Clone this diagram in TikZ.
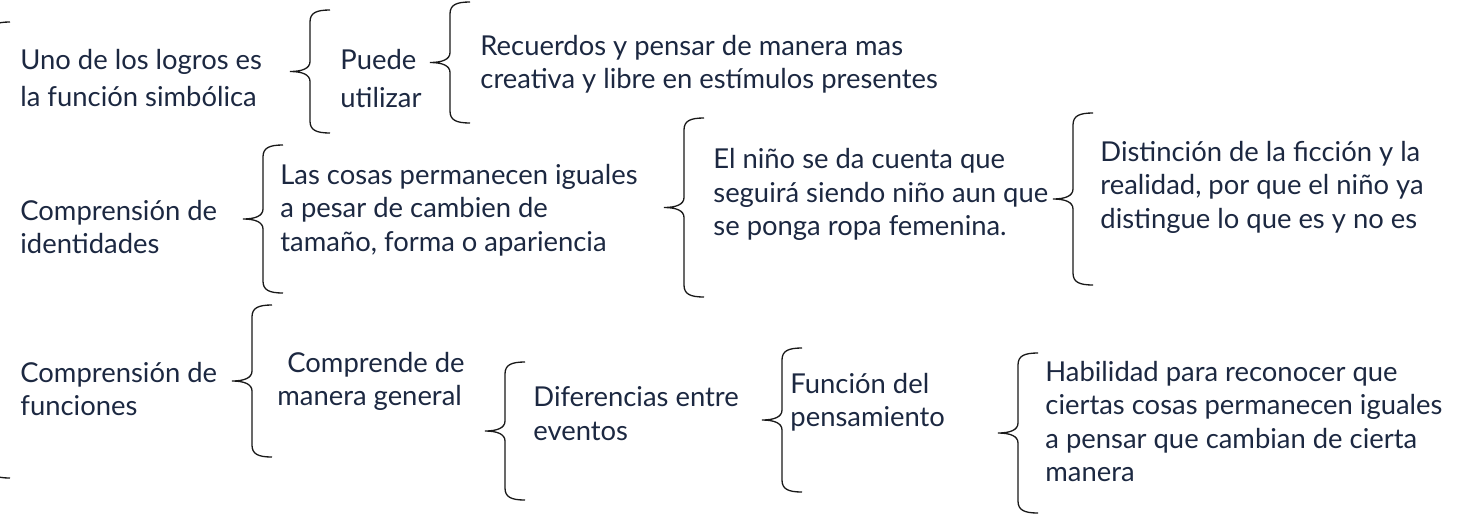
\documentclass[tikz,border=0pt]{standalone}
\usepackage{fontspec}
\setmainfont{Lato}
\usepackage{xcolor}
\definecolor{inkblue}{HTML}{1C2841}

% left curly brace: #1 = x of the spine, #2 = top, #3 = bottom (tip at the middle)
\newcommand{\lbrc}[3]{%
  \draw[brc] ({#1+20},#2) .. controls ({#1+6},#2) and (#1,{#2+3}) .. (#1,{#2+12})
    -- (#1,{(#2+#3)/2-10}) .. controls (#1,{(#2+#3)/2-3}) and ({#1-8},{(#2+#3)/2}) .. ({#1-20},{(#2+#3)/2})
    .. controls ({#1-8},{(#2+#3)/2}) and (#1,{(#2+#3)/2+3}) .. (#1,{(#2+#3)/2+10})
    -- (#1,{#3-12}) .. controls (#1,{#3-3}) and ({#1+6},#3) .. ({#1+20},#3);}

\begin{document}
\begin{tikzpicture}[x=0.5pt, y=-0.5pt,
  txt/.style={anchor=west, align=left, inner sep=0pt, text=inkblue,
              font=\fontsize{13.7}{16.75}\selectfont,
              execute at begin node=\strut, execute at end node=\strut},
  wide/.style={font=\fontsize{13.7}{18.75}\selectfont},
  brc/.style={draw=black!90, line width=0.65pt}]
  \useasboundingbox (0,0) rectangle (1460,520);
  \clip (0,0) rectangle (1460,520);

  % outer brace, only its two ends show
  \lbrc{-10}{22}{478}

  % first branch
  \node[txt, wide] (logro) at (20,83.5) {Uno de los logros es\\la función simbólica};
  \node[txt, wide] (puede) at (340,84) {Puede\\utilizar};
  \node[txt] (recuerdos) at (480,66.8) {Recuerdos y pensar de manera mas\\creativa y libre en estímulos presentes};
  \lbrc{310}{10}{133}
  \lbrc{450}{2}{123}

  % second branch
  \node[txt] (ident) at (20,231.8) {Comprensión de\\identidades};
  \node[txt] (cosas) at (280,212.8) {Las cosas permanecen iguales\\a pesar de cambien de\\tamaño, forma o apariencia};
  \node[txt] (nino) at (713,197.3) {El niño se da cuenta que\\seguirá siendo niño aun que\\se ponga ropa femenina.};
  \node[txt] (ficcion) at (1100,189.8) {Distinción de la ficción y la\\realidad, por que el niño ya\\distingue lo que es y no es};
  \lbrc{263}{145}{293}
  \lbrc{684}{118}{297}
  \lbrc{1073}{113}{285}

  % third branch
  \node[txt] (func) at (20,393.8) {Comprensión de\\funciones};
  \node[txt] (comprende) at (277,383.8) {\hspace*{5pt}Comprende de\\manera general};
  \node[txt] (difer) at (533,418.3) {Diferencias entre\\eventos};
  \node[txt] (funcion) at (790,404.8) {Función del\\pensamiento};
  \node[txt] (habil) at (1045,426.3) {Habilidad para reconocer que\\ciertas cosas permanecen iguales\\a pensar que cambian de cierta\\manera};
  \lbrc{252}{305}{457}
  \lbrc{505}{362}{500}
  \lbrc{782}{348}{492}
  \lbrc{1018}{353}{513}
\end{tikzpicture}
\end{document}
